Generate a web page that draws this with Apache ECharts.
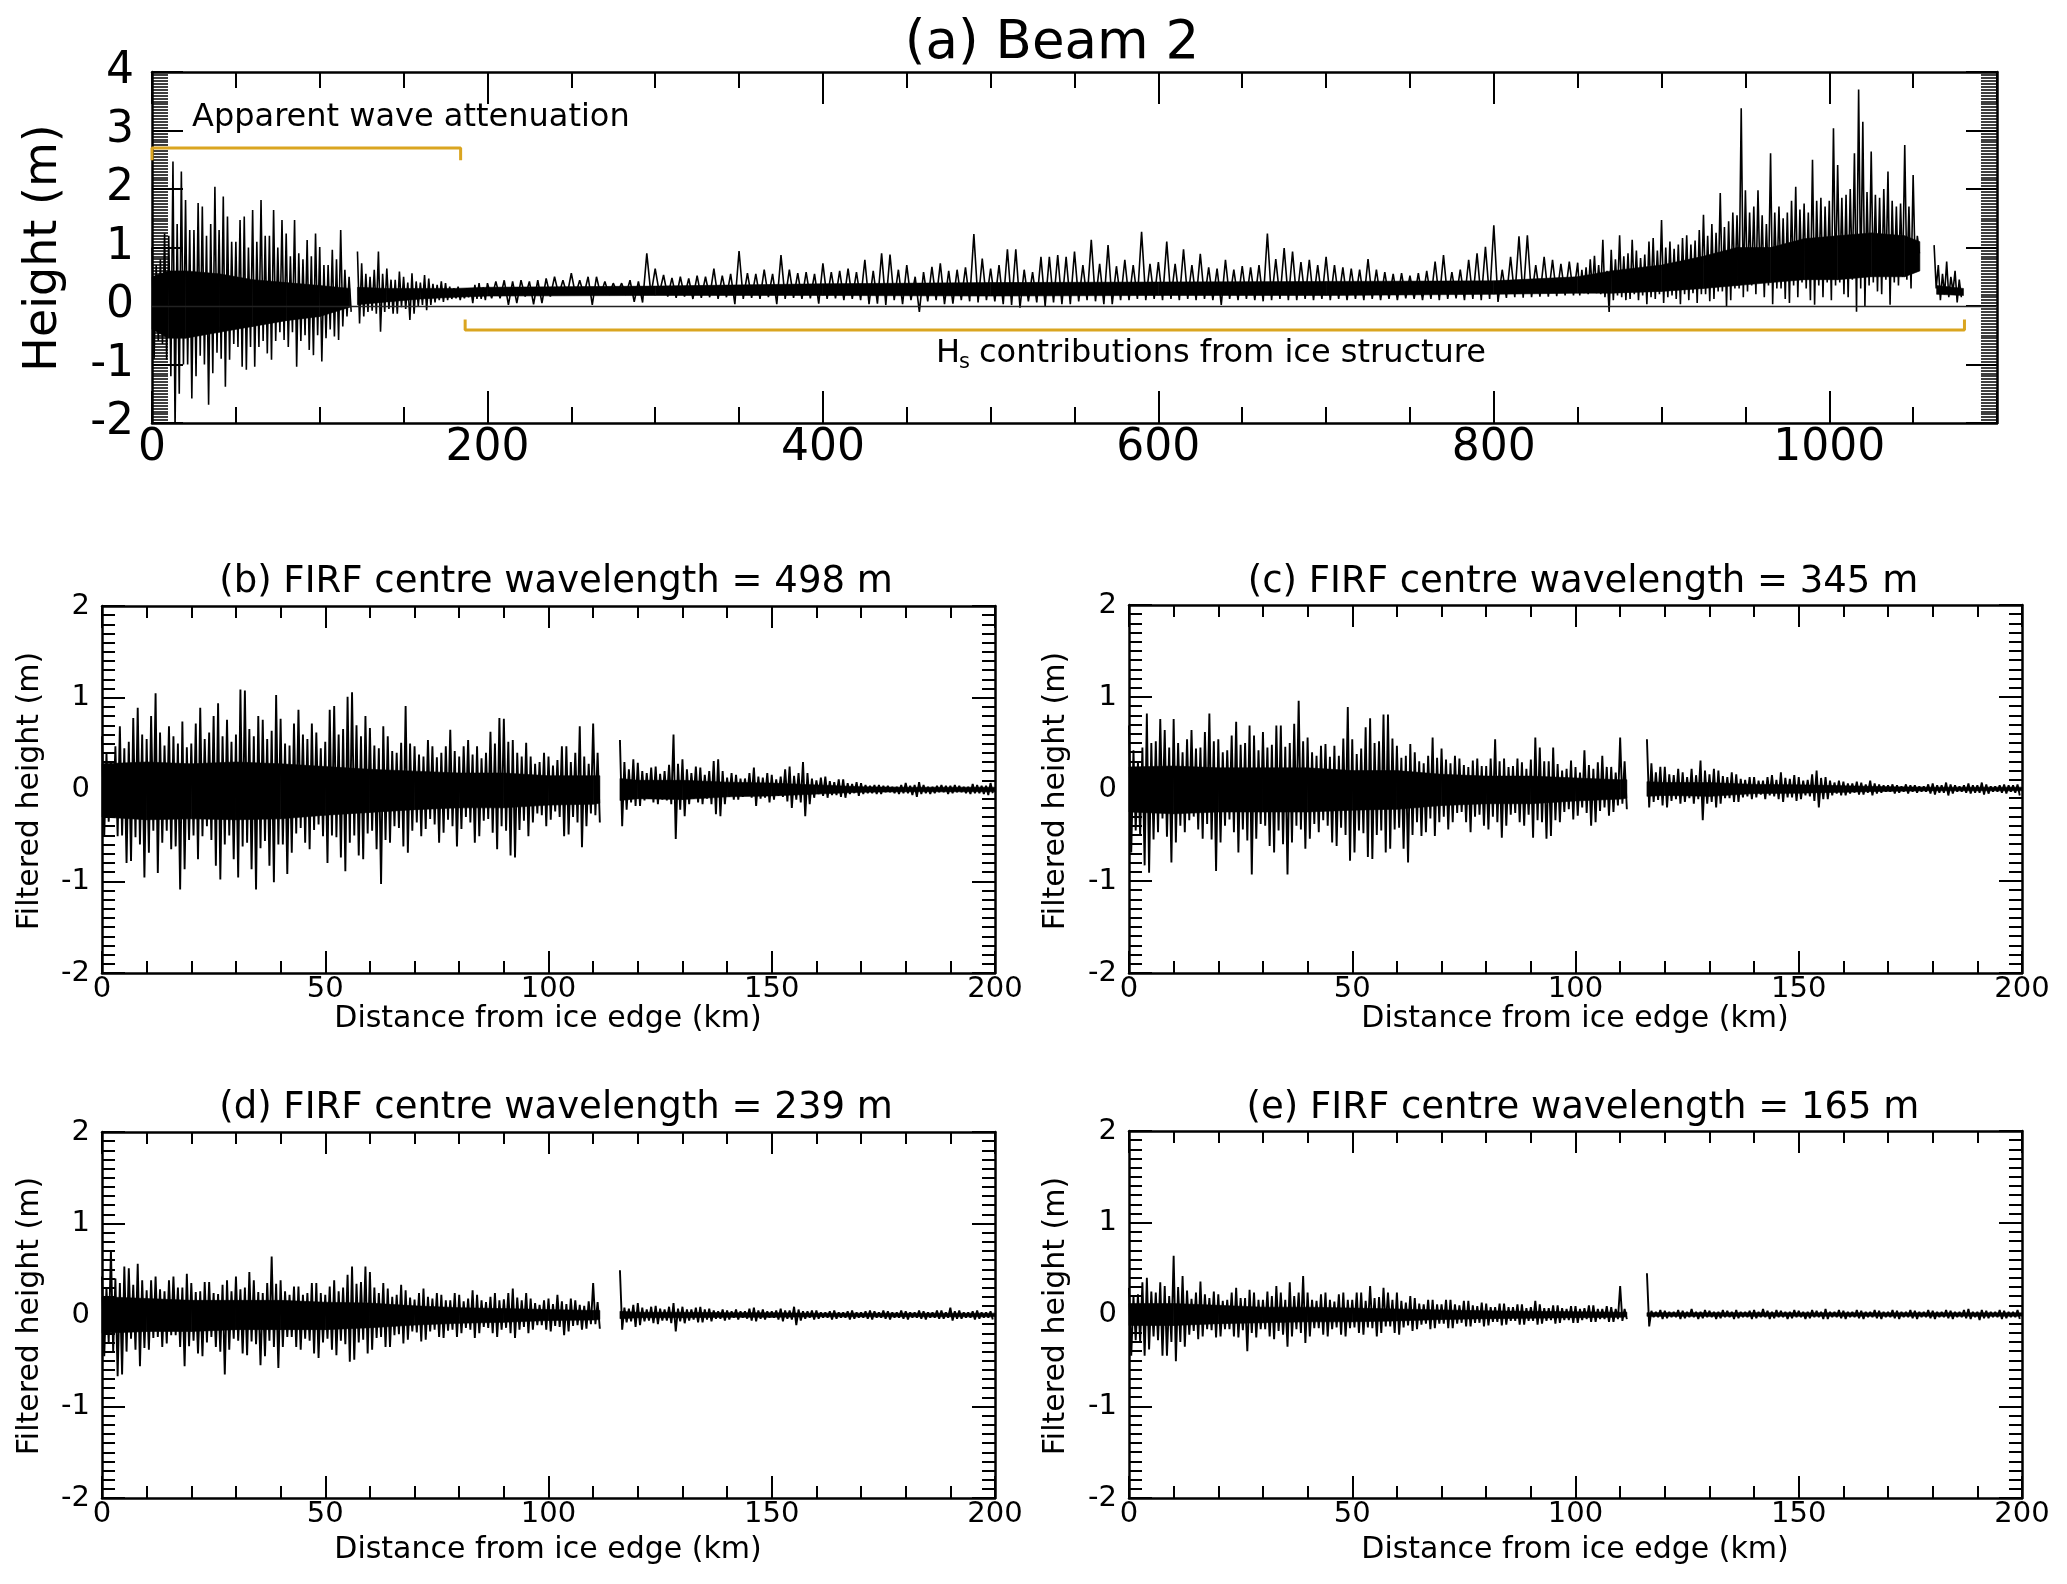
<!DOCTYPE html>
<html><head><meta charset="utf-8">
<script src="https://cdn.jsdelivr.net/npm/echarts@6/dist/echarts.min.js"></script>
<style>html,body{margin:0;padding:0;background:#fff}#c{width:2067px;height:1584px}</style>
</head><body><div id="c"></div>
<script>
// ---------- DATA ----------
// Panel (a), 0-200 km: per 2.5 km bin, max (upper) and min (lower) height (m)
const A_NEAR_STEP = 2.5, A_NEAR_START = 0;
const aNearUpper = [1.00,0.70, 0.80,1.24, 1.20,2.47, 1.40,2.30, 1.81,1.30, 1.30,1.76, 1.70,1.20, 1.40,2.04, 1.30,1.87, 1.53,1.10,
1.10,1.47, 1.53,1.00, 1.64,1.10, 1.81,1.20, 1.20,1.64, 1.00,1.47, 1.24,0.85, 1.47,0.90, 0.80,1.13, 0.85,1.24,
1.01,0.70, 0.70,0.96, 0.80,1.30, 0.62,0.50, null,0.93, 0.73,0.55, 0.50,0.62, 0.93,0.55, 0.64,0.45, 0.45,0.59,
0.50,0.40, 0.56,0.42, 0.40,0.53, 0.47,0.38, 0.36,0.42, 0.39,0.33, 0.30,0.33, 0.27,0.25, 0.30,0.36, 0.39,0.32];
const aNearLower = [-0.90,-0.60, -0.65,-0.92, -1.20,-2.10, -1.50,-1.00, -1.00,-1.58, -1.20,-0.85, -1.00,-1.69, -1.15,-0.80, -0.90,-1.38, -0.92,-0.65,
-0.70,-1.04, -1.09,-0.70, -1.04,-0.70, -0.60,-0.81, -0.92,-0.60, -0.45,-0.58, -0.70,-0.45, -1.04,-0.60, -0.50,-0.75, -0.84,-0.50,
-0.95,-0.55, -0.40,-0.52, -0.58,-0.35, -0.18,-0.10, null,-0.30, -0.18,-0.10, -0.08,-0.13, -0.44,-0.10, -0.05,-0.13, -0.13,-0.02,
-0.05,-0.24, -0.13,0.00, 0.02,-0.07, 0.02,0.06, 0.10,0.07, 0.10,0.12, 0.13,0.10, 0.13,0.15, 0.05,0.12, 0.12,0.10];
// Panel (a), 200-850 km: per 5 km bin
const A_FAR_STEP = 5, A_FAR_START = 200;
const aFarUpper = [0.39,0.42,0.44,0.42,0.44,0.42,0.44,0.47,0.50,0.44, 0.56,0.44,0.50,0.50,0.42,0.39,0.39,0.44,0.42,0.90,
0.64,0.53,0.48,0.50,0.47,0.52,0.50,0.64,0.52,0.55, 0.94,0.56,0.55,0.62,0.55,0.87,0.62,0.56,0.58,0.55,
0.73,0.58,0.60,0.64,0.58,0.79,0.60,0.90,0.88,0.62, 0.70,0.50,0.58,0.67,0.73,0.60,0.62,0.66,1.23,0.81,
0.64,0.70,0.97,0.97,0.62,0.58,0.84,0.84,0.87,0.84, 0.93,0.70,1.13,0.72,1.04,0.68,0.79,0.70,1.27,0.72,
0.75,1.10,0.72,0.97,0.70,0.89,0.66,0.64,0.79,0.62, 0.68,0.66,0.70,1.24,0.80,0.99,0.93,0.75,0.79,0.70,
0.84,0.70,0.66,0.64,0.62,0.80,0.62,0.58,0.55,0.56, 0.52,0.56,0.60,0.76,0.87,0.58,0.62,0.79,0.90,1.01,
1.38,0.62,0.84,1.19,1.21,0.70,0.84,0.79,0.72,0.76];
const aFarLower = [0.13,0.13,0.02,0.05,0.16,0.03,0.05,0.16,0.19,0.19, 0.19,0.19,0.02,0.19,0.19,0.22,0.19,0.07,0.06,0.19,
0.22,0.16,0.14,0.16,0.12,0.14,0.15,0.12,0.15,0.03, 0.12,0.14,0.12,0.15,0.03,0.12,0.14,0.12,0.13,0.04,
0.12,0.13,0.10,0.12,0.10,0.03,0.04,0.02,0.10,0.03, 0.10,-0.10,0.08,0.10,0.03,0.04,0.10,0.08,0.06,0.10,
0.08,0.03,0.02,-0.03,0.08,0.06,0.00,0.06,0.03,0.03, 0.08,0.10,0.08,0.03,0.03,0.10,0.10,0.12,0.10,0.12,
0.10,0.12,0.10,0.12,0.10,0.12,0.10,0.02,0.12,0.10, 0.12,0.10,0.08,0.10,0.12,0.10,0.10,0.12,0.10,0.12,
0.10,0.12,0.10,0.12,0.10,0.12,0.10,0.12,0.10,0.13, 0.12,0.10,0.12,0.10,0.12,0.13,0.10,0.12,0.10,0.12,
0.07,0.14,0.15,0.14,0.15,0.16,0.16,0.17,0.18,0.18];
// Panel (a), 850-1080 km: per 2.5 km bin
const A_END_STEP = 2.5, A_END_START = 850;
const aEndUpper = [0.74,0.62, 0.66,0.80, 0.86,0.70, 1.13,0.60, 0.96,0.80, 1.21,0.85, 0.90,1.13, 0.95,0.82, 0.88,1.10, 1.16,0.95,
1.47,1.00, 1.10,0.98, 1.05,1.16, 1.21,1.05, 1.12,1.30, 1.56,1.20, 1.40,1.25, 1.93,1.35, 1.45,1.60, 1.55,3.38,
1.98,1.60, 1.70,1.98, 1.55,1.40, 2.61,1.60, 1.70,1.50, 1.60,1.80, 2.04,1.65, 1.75,1.60, 2.50,1.80, 1.85,1.70,
1.80,3.04, 2.41,1.85, 1.90,2.00, 2.61,3.70, 3.15,1.95, 2.64,1.90, 1.85,2.00, 2.30,1.80, 1.70,1.75, 2.75,1.70,
2.24,1.20, null,null, null,1.04, 0.70,0.55, 0.76,0.50, 0.60,0.45];
const aEndLower = [0.18,0.22, 0.20,0.25, 0.22,0.20, 0.15,-0.10, 0.10,0.18, 0.15,0.10, 0.12,0.20, 0.10,0.18, 0.03,0.15, 0.12,0.20,
0.05,0.15, 0.18,0.12, 0.03,0.20, 0.10,0.22, 0.05,0.20, 0.20,0.08, 0.12,0.25, 0.25,-0.01, 0.10,0.30, 0.30,0.15,
0.25,0.35, 0.20,0.40, 0.15,0.35, 0.03,0.30, 0.30,0.12, 0.05,0.35, 0.15,0.40, 0.30,0.10, 0.02,0.35, 0.15,0.40,
0.10,0.35, 0.40,0.20, 0.15,0.45, -0.10,0.30, -0.01,0.35, 0.40,0.25, 0.20,0.45, 0.02,0.40, 0.35,0.50, 0.45,0.30,
0.60,0.90, null,null, null,0.30, 0.10,0.20, 0.15,0.25, 0.06,0.15];
// Panel (a): dense core of the signal
const aCoreKm = [0,10,20,40,60,80,100,118,120,122.5,140,160,180,200,300,400,500,600,700,800,850,870,900,925,945,965,985,1005,1025,1045,1054,1058,1064,1080];
const aCoreTop = [0.5,0.6,0.6,0.55,0.45,0.4,0.35,0.3,null,0.32,0.3,0.3,0.3,0.32,0.34,0.38,0.40,0.41,0.42,0.43,0.5,0.6,0.7,0.85,1.0,1.0,1.15,1.2,1.25,1.2,1.1,null,0.35,0.3];
const aCoreBot = [-0.4,-0.55,-0.55,-0.45,-0.35,-0.25,-0.18,-0.02,null,0.02,0.07,0.12,0.15,0.17,0.18,0.18,0.17,0.18,0.18,0.2,0.22,0.22,0.25,0.3,0.35,0.4,0.45,0.45,0.5,0.5,0.6,null,0.2,0.18];
// Annotation brackets (km, m)
const bracket1Km = [0,0,184,184], bracket1M = [2.49,2.70,2.70,2.49];
const bracket2Km = [186.7,186.7,1080.6,1080.6], bracket2M = [-0.23,-0.41,-0.41,-0.23];

// Panels (b)-(e): per 1 km bin max/min of filtered height (m), 0-200 km
const SUB_STEP_KM = 1;
const bUpper = [0.58,0.40, 0.30,0.47, 0.69,0.45, 0.52,0.78, 0.89,0.60, 0.55,0.80, 1.05,0.62, 0.48,0.69, 0.58,0.50, 0.74,0.46,
0.50,0.72, 0.89,0.55, 0.62,0.80, 0.94,0.58, 0.76,0.52, 0.60,1.09, 1.08,0.66, 0.58,0.80, 0.76,0.55, 0.64,1.03,
0.77,0.50, 0.48,0.72, 0.87,0.60, 0.55,0.72, 0.62,0.45, 0.52,0.87, 0.91,0.60, 0.66,1.01, 1.06,0.70, 0.58,0.80,
0.67,0.48, 0.45,0.69, 0.58,0.42, 0.40,0.51, 0.91,0.50, 0.47,0.38, 0.36,0.54, 0.47,0.35, 0.40,0.47, 0.65,0.42,
0.36,0.47, 0.54,0.38, 0.47,0.34, 0.40,0.63, 0.50,0.78, 0.77,0.52, 0.54,0.40, 0.36,0.51, 0.36,0.28, 0.30,0.40,
0.36,0.26, 0.32,0.47, 0.47,0.30, 0.40,0.69, 0.36,0.28, 0.72,0.40,
null,null,null,null,
0.54,0.30, 0.22,0.33, 0.29,0.20, 0.18,0.24, 0.25,0.17, 0.20,0.27, 0.60,0.28, 0.33,0.22, 0.18,0.25, 0.24,0.16,
0.20,0.31, 0.33,0.20, 0.13,0.18, 0.16,0.12, 0.12,0.18, 0.24,0.14, 0.13,0.18, 0.16,0.11, 0.14,0.22, 0.25,0.15,
0.18,0.30, 0.18,0.12, 0.10,0.13, 0.14,0.09, 0.08,0.11, 0.11,0.07, 0.06,0.08, 0.07,0.05, 0.04,0.05, 0.05,0.04,
0.04,0.03, 0.03,0.05, 0.07,0.04, 0.05,0.08, 0.05,0.03, 0.03,0.04, 0.05,0.04, 0.04,0.05, 0.04,0.03, 0.03,0.06,
0.05,0.04, 0.04,0.07];
const bLower = [-0.51,-0.35, -0.30,-0.51, -0.50,-0.80, -0.78,-0.52, -0.60,-0.96, -0.69,-0.45, -0.91,-0.58, -0.45,-0.65, -0.62,-1.09, -0.87,-0.55,
-0.50,-0.76, -0.51,-0.40, -0.55,-0.83, -0.98,-0.60, -0.50,-0.76, -0.96,-0.62, -0.58,-0.87, -1.09,-0.64, -0.56,-0.83, -1.01,-0.60,
-0.60,-0.92, -0.69,-0.48, -0.42,-0.58, -0.65,-0.44, -0.38,-0.51, -0.80,-0.50, -0.52,-0.74, -0.89,-0.58, -0.50,-0.72, -0.76,-0.48,
-0.45,-0.65, -1.03,-0.55, -0.58,-0.40, -0.42,-0.62, -0.69,-0.45, -0.36,-0.51, -0.43,-0.32, -0.38,-0.58, -0.47,-0.33, -0.40,-0.62,
-0.43,-0.30, -0.36,-0.58, -0.51,-0.34, -0.32,-0.47, -0.65,-0.40, -0.45,-0.72, -0.74,-0.44, -0.34,-0.51, -0.36,-0.26, -0.28,-0.40,
-0.33,-0.24, -0.30,-0.51, -0.49,-0.30, -0.36,-0.63, -0.40,-0.26, -0.28,-0.36,
null,null,null,null,
-0.40,-0.22, -0.14,-0.18, -0.18,-0.12, -0.10,-0.14, -0.16,-0.11, -0.12,-0.16, -0.54,-0.22, -0.29,-0.16, -0.10,-0.14, -0.16,-0.10,
-0.16,-0.27, -0.29,-0.16, -0.08,-0.11, -0.11,-0.08, -0.07,-0.09, -0.18,-0.10, -0.09,-0.14, -0.11,-0.07, -0.08,-0.13, -0.20,-0.11,
-0.14,-0.29, -0.16,-0.09, -0.05,-0.07, -0.09,-0.06, -0.06,-0.08, -0.09,-0.05, -0.04,-0.07, -0.05,-0.04, -0.04,-0.05, -0.05,-0.03,
-0.03,-0.04, -0.05,-0.04, -0.04,-0.06, -0.08,-0.05, -0.04,-0.05, -0.04,-0.03, -0.03,-0.05, -0.04,-0.03, -0.03,-0.04, -0.05,-0.04,
-0.04,-0.05, -0.06,-0.04];
const cUpper = [0.69,0.42, 0.30,0.45, 0.82,0.50, 0.52,0.76, 0.64,0.45, 0.76,0.50, 0.40,0.54, 0.64,0.44, 0.45,0.62, 0.82,0.52,
0.54,0.40, 0.42,0.58, 0.73,0.48, 0.50,0.69, 0.58,0.42, 0.62,0.45, 0.48,0.69, 0.69,0.46, 0.50,0.71, 0.96,0.52,
0.56,0.40, 0.36,0.47, 0.49,0.35, 0.47,0.36, 0.55,0.89, 0.54,0.38, 0.44,0.67, 0.77,0.50, 0.52,0.81, 0.81,0.55,
0.47,0.34, 0.36,0.49, 0.40,0.30, 0.28,0.36, 0.56,0.34, 0.44,0.32, 0.28,0.36, 0.33,0.26, 0.24,0.31, 0.33,0.25,
0.25,0.33, 0.54,0.30, 0.33,0.24, 0.25,0.33, 0.29,0.22, 0.32,0.56, 0.45,0.30, 0.30,0.45, 0.27,0.20, 0.22,0.31,
0.24,0.18, 0.42,0.26, 0.22,0.29, 0.36,0.24, 0.24,0.18, 0.56,0.30,
null,null,null,null,
0.54,0.28, 0.18,0.24, 0.24,0.16, 0.15,0.22, 0.18,0.13, 0.22,0.15, 0.31,0.20, 0.16,0.22, 0.20,0.14, 0.13,0.18,
0.16,0.11, 0.10,0.13, 0.13,0.09, 0.09,0.13, 0.15,0.10, 0.18,0.12, 0.11,0.15, 0.13,0.09, 0.10,0.16, 0.20,0.12,
0.13,0.09, 0.07,0.09, 0.08,0.06, 0.06,0.08, 0.07,0.05, 0.09,0.06, 0.05,0.04, 0.04,0.05, 0.04,0.03, 0.05,0.04,
0.04,0.03, 0.03,0.05, 0.06,0.04, 0.04,0.07, 0.05,0.04, 0.03,0.04, 0.06,0.04, 0.04,0.07, 0.05,0.03, 0.03,0.04,
0.05,0.04, 0.04,0.05];
const cLower = [-0.69,-0.45, -0.50,-0.83, -0.91,-0.55, -0.47,-0.32, -0.52,-0.80, -0.58,-0.40, -0.47,-0.34, -0.30,-0.44, -0.54,-0.38, -0.55,-0.89,
-0.58,-0.40, -0.33,-0.47, -0.69,-0.44, -0.56,-0.93, -0.54,-0.38, -0.40,-0.62, -0.69,-0.45, -0.60,-0.93, -0.58,-0.40, -0.44,-0.65,
-0.54,-0.38, -0.47,-0.34, -0.40,-0.58, -0.62,-0.42, -0.50,-0.78, -0.69,-0.45, -0.48,-0.74, -0.76,-0.50, -0.45,-0.69, -0.65,-0.44,
-0.42,-0.65, -0.80,-0.50, -0.36,-0.51, -0.47,-0.32, -0.51,-0.36, -0.30,-0.44, -0.36,-0.26, -0.25,-0.36, -0.47,-0.30, -0.28,-0.40,
-0.44,-0.30, -0.36,-0.53, -0.40,-0.28, -0.26,-0.36, -0.40,-0.28, -0.53,-0.34, -0.36,-0.54, -0.51,-0.34, -0.36,-0.25, -0.22,-0.33,
-0.29,-0.20, -0.26,-0.40, -0.36,-0.24, -0.20,-0.29, -0.25,-0.18, -0.16,-0.22,
null,null,null,null,
-0.20,-0.14, -0.12,-0.18, -0.20,-0.13, -0.11,-0.16, -0.14,-0.10, -0.16,-0.11, -0.34,-0.16, -0.14,-0.20, -0.16,-0.10, -0.10,-0.14,
-0.14,-0.09, -0.08,-0.11, -0.09,-0.06, -0.11,-0.07, -0.08,-0.11, -0.14,-0.09, -0.09,-0.13, -0.11,-0.07, -0.08,-0.13, -0.20,-0.11,
-0.11,-0.07, -0.05,-0.07, -0.07,-0.05, -0.04,-0.06, -0.06,-0.04, -0.07,-0.05, -0.04,-0.03, -0.03,-0.05, -0.04,-0.03, -0.05,-0.03,
-0.04,-0.03, -0.03,-0.05, -0.06,-0.04, -0.04,-0.07, -0.05,-0.03, -0.03,-0.04, -0.05,-0.04, -0.04,-0.06, -0.05,-0.03, -0.03,-0.04,
-0.05,-0.03, -0.04,-0.07];
const dUpper = [0.42,0.30, 0.71,0.40, 0.35,0.53, 0.51,0.33, 0.56,0.38, 0.27,0.38, 0.42,0.28, 0.26,0.38, 0.42,0.30, 0.30,0.45,
0.35,0.25, 0.26,0.36, 0.36,0.24, 0.23,0.33, 0.38,0.26, 0.42,0.28, 0.30,0.47, 0.38,0.25, 0.24,0.35, 0.64,0.34,
0.38,0.26, 0.22,0.31, 0.31,0.22, 0.24,0.35, 0.35,0.24, 0.22,0.31, 0.38,0.26, 0.30,0.44, 0.53,0.34, 0.36,0.53,
0.47,0.30, 0.24,0.35, 0.29,0.20, 0.22,0.33, 0.27,0.19, 0.17,0.24, 0.29,0.20, 0.18,0.24, 0.22,0.16, 0.16,0.24,
0.22,0.15, 0.18,0.27, 0.22,0.16, 0.14,0.20, 0.24,0.16, 0.17,0.24, 0.29,0.19, 0.16,0.24, 0.18,0.13, 0.11,0.16,
0.18,0.12, 0.22,0.15, 0.12,0.18, 0.16,0.11, 0.10,0.15, 0.35,0.14,
null,null,null,null,
0.49,0.08, 0.07,0.11, 0.13,0.08, 0.06,0.09, 0.10,0.07, 0.06,0.09, 0.13,0.07, 0.09,0.06, 0.06,0.08, 0.09,0.06,
0.07,0.05, 0.04,0.06, 0.05,0.04, 0.06,0.04, 0.04,0.07, 0.08,0.05, 0.06,0.04, 0.04,0.05, 0.07,0.05, 0.05,0.09,
0.06,0.04, 0.04,0.05, 0.05,0.03, 0.03,0.04, 0.05,0.03, 0.03,0.04, 0.05,0.03, 0.03,0.04, 0.05,0.04, 0.03,0.05,
0.04,0.03, 0.03,0.05, 0.04,0.03, 0.03,0.05, 0.04,0.03, 0.03,0.05, 0.05,0.03, 0.08,0.04, 0.05,0.03, 0.03,0.04,
0.05,0.03, 0.03,0.04];
const dLower = [-0.45,-0.30, -0.40,-0.67, -0.65,-0.40, -0.26,-0.38, -0.56,-0.36, -0.38,-0.25, -0.24,-0.35, -0.31,-0.22, -0.22,-0.35, -0.56,-0.34,
-0.28,-0.42, -0.45,-0.30, -0.24,-0.35, -0.40,-0.65, -0.38,-0.26, -0.28,-0.42, -0.44,-0.29, -0.32,-0.55, -0.45,-0.28, -0.35,-0.58,
-0.35,-0.24, -0.24,-0.35, -0.38,-0.26, -0.28,-0.42, -0.47,-0.30, -0.26,-0.38, -0.44,-0.28, -0.32,-0.51, -0.49,-0.30, -0.27,-0.42,
-0.38,-0.25, -0.24,-0.35, -0.35,-0.22, -0.21,-0.31, -0.27,-0.18, -0.19,-0.29, -0.27,-0.18, -0.16,-0.24, -0.25,-0.17, -0.16,-0.24,
-0.20,-0.14, -0.16,-0.25, -0.20,-0.13, -0.14,-0.20, -0.24,-0.16, -0.14,-0.20, -0.25,-0.16, -0.13,-0.20, -0.16,-0.11, -0.11,-0.16,
-0.18,-0.12, -0.13,-0.22, -0.18,-0.12, -0.11,-0.16, -0.15,-0.10, -0.10,-0.15,
null,null,null,null,
-0.16,-0.08, -0.07,-0.13, -0.11,-0.07, -0.06,-0.09, -0.10,-0.06, -0.06,-0.09, -0.18,-0.07, -0.09,-0.06, -0.05,-0.08, -0.08,-0.05,
-0.07,-0.04, -0.04,-0.06, -0.05,-0.03, -0.05,-0.03, -0.04,-0.06, -0.07,-0.04, -0.05,-0.03, -0.03,-0.05, -0.07,-0.04, -0.05,-0.11,
-0.06,-0.04, -0.03,-0.05, -0.04,-0.03, -0.03,-0.05, -0.04,-0.03, -0.03,-0.05, -0.04,-0.03, -0.03,-0.04, -0.05,-0.03, -0.03,-0.04,
-0.05,-0.03, -0.03,-0.04, -0.05,-0.03, -0.03,-0.04, -0.05,-0.03, -0.03,-0.04, -0.04,-0.03, -0.06,-0.04, -0.04,-0.03, -0.03,-0.05,
-0.04,-0.03, -0.03,-0.05];
const eUpper = [0.29,0.20, 0.22,0.35, 0.40,0.25, 0.24,0.35, 0.31,0.20, 0.64,0.30, 0.42,0.26, 0.17,0.24, 0.36,0.22, 0.18,0.25,
0.22,0.15, 0.16,0.24, 0.29,0.18, 0.18,0.27, 0.24,0.16, 0.16,0.25, 0.20,0.31, 0.24,0.16, 0.35,0.20, 0.24,0.42,
0.24,0.16, 0.15,0.22, 0.24,0.16, 0.14,0.22, 0.24,0.16, 0.16,0.24, 0.24,0.15, 0.31,0.18, 0.19,0.29, 0.24,0.16,
0.24,0.15, 0.13,0.20, 0.18,0.12, 0.11,0.16, 0.16,0.11, 0.11,0.16, 0.16,0.11, 0.10,0.15, 0.15,0.10, 0.09,0.13,
0.12,0.08, 0.08,0.12, 0.12,0.08, 0.08,0.11, 0.11,0.07, 0.08,0.15, 0.11,0.07, 0.07,0.10, 0.10,0.07, 0.06,0.09,
0.09,0.06, 0.07,0.10, 0.10,0.06, 0.06,0.09, 0.08,0.06, 0.31,0.06,
null,null,null,null,
0.45,0.04, 0.03,0.05, 0.04,0.03, 0.03,0.05, 0.04,0.03, 0.06,0.03, 0.03,0.05, 0.04,0.03, 0.03,0.05, 0.04,0.03,
0.05,0.03, 0.03,0.04, 0.05,0.03, 0.06,0.04, 0.03,0.05, 0.04,0.03, 0.03,0.05, 0.04,0.03, 0.03,0.05, 0.04,0.03,
0.06,0.03, 0.03,0.05, 0.04,0.03, 0.03,0.05, 0.04,0.03, 0.03,0.05, 0.04,0.03, 0.03,0.05, 0.04,0.03, 0.03,0.05,
0.04,0.03, 0.03,0.05, 0.04,0.03, 0.03,0.05, 0.04,0.03, 0.03,0.05, 0.06,0.03, 0.03,0.05, 0.04,0.03, 0.03,0.05,
0.04,0.03, 0.03,0.05];
const eLower = [-0.45,-0.28, -0.30,-0.45, -0.38,-0.24, -0.28,-0.45, -0.45,-0.30, -0.51,-0.30, -0.35,-0.22, -0.18,-0.27, -0.24,-0.16, -0.17,-0.25,
-0.24,-0.16, -0.16,-0.24, -0.25,-0.17, -0.40,-0.20, -0.25,-0.16, -0.16,-0.24, -0.27,-0.18, -0.22,-0.35, -0.24,-0.16, -0.20,-0.31,
-0.24,-0.15, -0.15,-0.22, -0.24,-0.16, -0.14,-0.22, -0.24,-0.15, -0.14,-0.20, -0.22,-0.14, -0.15,-0.24, -0.20,-0.13, -0.13,-0.20,
-0.22,-0.14, -0.12,-0.18, -0.16,-0.11, -0.10,-0.16, -0.15,-0.10, -0.10,-0.15, -0.15,-0.10, -0.09,-0.13, -0.13,-0.09, -0.09,-0.13,
-0.12,-0.08, -0.08,-0.12, -0.11,-0.07, -0.07,-0.11, -0.11,-0.07, -0.07,-0.11, -0.10,-0.07, -0.06,-0.10, -0.09,-0.06, -0.06,-0.09,
-0.09,-0.06, -0.05,-0.08, -0.08,-0.05, -0.05,-0.08, -0.08,-0.05, -0.07,-0.05,
null,null,null,null,
-0.13,-0.03, -0.03,-0.05, -0.04,-0.03, -0.03,-0.05, -0.04,-0.03, -0.03,-0.05, -0.04,-0.03, -0.03,-0.05, -0.04,-0.03, -0.03,-0.05,
-0.04,-0.03, -0.03,-0.05, -0.04,-0.03, -0.03,-0.05, -0.04,-0.03, -0.03,-0.05, -0.04,-0.03, -0.03,-0.05, -0.04,-0.03, -0.03,-0.05,
-0.05,-0.03, -0.03,-0.04, -0.05,-0.03, -0.03,-0.04, -0.05,-0.03, -0.03,-0.04, -0.05,-0.03, -0.03,-0.04, -0.05,-0.03, -0.03,-0.04,
-0.05,-0.03, -0.03,-0.04, -0.05,-0.03, -0.03,-0.04, -0.05,-0.03, -0.03,-0.04, -0.05,-0.03, -0.06,-0.04, -0.04,-0.03, -0.03,-0.05,
-0.04,-0.03, -0.03,-0.05];
// Dense core for panels (b)-(e)
const subCoreKm = [0,10,20,30,40,50,60,70,80,90,100,110,111.5,113.5,116,120,130,140,150,160,170,180,190,200];
const bCoreTop = [0.28,0.30,0.28,0.30,0.28,0.25,0.22,0.20,0.18,0.18,0.15,0.15,0.15,null,0.12,0.10,0.10,0.08,0.07,0.05,0.03,0.025,0.025,0.025];
const bCoreBot = [-0.30,-0.33,-0.32,-0.33,-0.32,-0.28,-0.25,-0.22,-0.20,-0.20,-0.17,-0.16,-0.15,null,-0.12,-0.10,-0.11,-0.08,-0.07,-0.05,-0.03,-0.025,-0.025,-0.025];
const cCoreTop = [0.24,0.25,0.23,0.23,0.23,0.20,0.20,0.16,0.14,0.14,0.12,0.10,0.10,null,0.08,0.07,0.07,0.05,0.045,0.035,0.025,0.02,0.02,0.02];
const cCoreBot = [-0.25,-0.27,-0.25,-0.25,-0.25,-0.23,-0.22,-0.18,-0.16,-0.16,-0.13,-0.11,-0.10,null,-0.08,-0.07,-0.08,-0.05,-0.045,-0.035,-0.025,-0.02,-0.02,-0.02];
const dCoreTop = [0.20,0.18,0.16,0.16,0.16,0.14,0.13,0.10,0.08,0.07,0.06,0.05,0.05,null,0.04,0.03,0.03,0.025,0.025,0.02,0.02,0.02,0.02,0.02];
const dCoreBot = [-0.20,-0.18,-0.18,-0.16,-0.16,-0.16,-0.14,-0.11,-0.09,-0.08,-0.06,-0.055,-0.05,null,-0.04,-0.03,-0.03,-0.025,-0.025,-0.02,-0.02,-0.02,-0.02,-0.02];
const eCoreTop = [0.12,0.12,0.10,0.08,0.08,0.07,0.06,0.05,0.04,0.035,0.03,0.025,0.025,null,0.02,0.02,0.02,0.02,0.018,0.018,0.018,0.018,0.018,0.018];
const eCoreBot = [-0.12,-0.12,-0.10,-0.09,-0.08,-0.08,-0.07,-0.055,-0.045,-0.04,-0.035,-0.03,-0.025,null,-0.02,-0.02,-0.02,-0.02,-0.018,-0.018,-0.018,-0.018,-0.018,-0.018];

// Text
const titleA = '(a) Beam 2';
const subTitles = ['(b) FIRF centre wavelength = 498 m','(c) FIRF centre wavelength = 345 m','(d) FIRF centre wavelength = 239 m','(e) FIRF centre wavelength = 165 m'];
const xNameSub = 'Distance from ice edge (km)';
const yNameSub = 'Filtered height (m)';
const yNameA = 'Height (m)';
const noteTop = 'Apparent wave attenuation';
const noteBottom = 'contributions from ice structure';

// ---------- BUILD ----------
const FONT = 'DejaVu Sans';
const GOLD = '#DAA520';
const nz = v => (v == null ? '-' : v);
function zigzag(up, lo, step, start) {
  const out = [];
  for (let i = 0; i < up.length; i++) {
    out.push([start + i * step, nz(up[i])]);
    out.push([start + i * step + step / 2, nz(lo[i])]);
  }
  return out;
}
function coreSeries(km, top, bot, xi, yi) {
  const segs = [];
  for (let i = 0; i + 1 < km.length; i++) {
    if (top[i] == null || top[i + 1] == null || bot[i] == null || bot[i + 1] == null) continue;
    segs.push([km[i], top[i], bot[i], km[i + 1], top[i + 1], bot[i + 1]]);
  }
  return {
    type: 'custom', xAxisIndex: xi, yAxisIndex: yi, data: segs, silent: true, z: 2,
    encode: {x: [0, 3], y: [1, 2, 4, 5]},
    renderItem: function (params, api) {
      const p1 = api.coord([api.value(0), api.value(1)]);
      const p2 = api.coord([api.value(3), api.value(4)]);
      const p3 = api.coord([api.value(3), api.value(5)]);
      const p4 = api.coord([api.value(0), api.value(2)]);
      return {type: 'polygon', shape: {points: [p1, p2, p3, p4]}, style: {fill: '#000', stroke: '#000', lineWidth: 0.6}};
    }
  };
}

const grids = [
  {left: 152, top: 72, width: 1845, height: 351},
  {left: 102, top: 606, width: 893, height: 367},
  {left: 1129, top: 605, width: 893, height: 368},
  {left: 102, top: 1132, width: 893, height: 366},
  {left: 1129, top: 1131, width: 893, height: 367}
].map(g => Object.assign({outerBoundsMode: 'none', containLabel: false, show: false}, g));

const xAxes = [], yAxes = [];
function mkAxis(gi, pos, o) {
  return {
    type: 'value', gridIndex: gi, position: pos, min: o.min, max: o.max, interval: o.interval,
    axisLine: {show: o.line !== false, onZero: false, lineStyle: {color: '#000', width: 2.5}},
    axisTick: {show: true, inside: true, length: o.tickLen, lineStyle: {color: '#000', width: o.tickW || 2}},
    minorTick: {show: !!o.minor, splitNumber: o.minor || 5, length: o.minorLen || 0, lineStyle: {color: '#000', width: o.minorW || 2}},
    axisLabel: {show: !!o.label, fontSize: o.fs || 12, color: '#000', fontFamily: FONT, margin: o.margin || 0, formatter: o.fmt},
    splitLine: {show: false}, minorSplitLine: {show: false}, axisPointer: {show: false}, silent: true
  };
}
function addX(gi, pos, o) { xAxes.push(mkAxis(gi, pos, o)); return xAxes.length - 1; }
function addY(gi, pos, o) { yAxes.push(mkAxis(gi, pos, o)); return yAxes.length - 1; }

const series = [];
// Panel (a)
const axA = addX(0, 'bottom', {min: 0, max: 1100, interval: 200, tickLen: 32, label: true, fs: 44, margin: 4,
  fmt: v => (v % 200 === 0 ? String(v) : '')});
addX(0, 'bottom', {min: 0, max: 1100, interval: 50, tickLen: 16, line: false});
addX(0, 'top', {min: 0, max: 1100, interval: 200, tickLen: 32});
addX(0, 'top', {min: 0, max: 1100, interval: 50, tickLen: 16, line: false});
const ayA = addY(0, 'left', {min: -2, max: 4, interval: 1, tickLen: 31, minor: 20, minorLen: 16, minorW: 1.5, label: true, fs: 44, margin: 18});
addY(0, 'right', {min: -2, max: 4, interval: 1, tickLen: 31, minor: 20, minorLen: 16, minorW: 1.5});
series.push(coreSeries(aCoreKm, aCoreTop, aCoreBot, axA, ayA));
const aLine = zigzag(aNearUpper, aNearLower, A_NEAR_STEP, A_NEAR_START)
  .concat(zigzag(aFarUpper, aFarLower, A_FAR_STEP, A_FAR_START))
  .concat(zigzag(aEndUpper, aEndLower, A_END_STEP, A_END_START));
series.push({type: 'line', xAxisIndex: axA, yAxisIndex: ayA, data: aLine, symbol: 'none', showSymbol: false,
  lineStyle: {color: '#000', width: 1.6}, silent: true, z: 3,
  markLine: {silent: true, symbol: 'none', label: {show: false}, lineStyle: {color: '#222', width: 1.3, type: 'solid'}, data: [{yAxis: 0}], animation: false}});
series.push({type: 'line', xAxisIndex: axA, yAxisIndex: ayA, data: bracket1Km.map((k, i) => [k, bracket1M[i]]), symbol: 'none', showSymbol: false,
  lineStyle: {color: GOLD, width: 3}, clip: false, silent: true, z: 4});
series.push({type: 'line', xAxisIndex: axA, yAxisIndex: ayA, data: bracket2Km.map((k, i) => [k, bracket2M[i]]), symbol: 'none', showSymbol: false,
  lineStyle: {color: GOLD, width: 3}, clip: false, silent: true, z: 4});

// Panels (b)-(e)
const subData = [
  [bUpper, bLower, bCoreTop, bCoreBot],
  [cUpper, cLower, cCoreTop, cCoreBot],
  [dUpper, dLower, dCoreTop, dCoreBot],
  [eUpper, eLower, eCoreTop, eCoreBot]
];
subData.forEach((d, k) => {
  const gi = k + 1;
  const xi = addX(gi, 'bottom', {min: 0, max: 200, interval: 50, tickLen: 22, minor: 5, minorLen: 12, label: true, fs: 29, margin: 2});
  addX(gi, 'top', {min: 0, max: 200, interval: 50, tickLen: 22, minor: 5, minorLen: 12});
  const yi = addY(gi, 'left', {min: -2, max: 2, interval: 1, tickLen: 23, minor: 10, minorLen: 13, label: true, fs: 29, margin: 12});
  addY(gi, 'right', {min: -2, max: 2, interval: 1, tickLen: 23, minor: 10, minorLen: 13});
  series.push(coreSeries(subCoreKm, d[2], d[3], xi, yi));
  series.push({type: 'line', xAxisIndex: xi, yAxisIndex: yi, data: zigzag(d[0], d[1], SUB_STEP_KM, 0), symbol: 'none', showSymbol: false,
    lineStyle: {color: '#000', width: 1.9}, silent: true, z: 3});
});

// Text elements
function txt(x, y, s, size, opt) {
  return Object.assign({type: 'text', x: x, y: y, silent: true, z: 10,
    style: Object.assign({text: s, fontSize: size, fontFamily: FONT, fill: '#000',
      textAlign: 'center', textVerticalAlign: 'middle', align: 'center', verticalAlign: 'middle'}, (opt && opt.style) || {})},
    opt && opt.rotation ? {rotation: opt.rotation} : {});
}
const L = {style: {textAlign: 'left', align: 'left'}};
const R90 = {rotation: Math.PI / 2};
const gfx = [
  txt(1052, 44, titleA, 53),
  txt(44, 248, yNameA, 46, R90),
  txt(192, 118, noteTop, 32, L),
  txt(936, 354, 'H', 32, L),
  txt(959, 363, 's', 21, L),
  txt(979, 354, noteBottom, 32, L)
];
const subCenters = [[556, 582, 548, 1019, 30, 791], [1583, 582, 1575, 1019, 1056, 791], [556, 1108, 548, 1550, 30, 1316], [1583, 1108, 1575, 1550, 1056, 1316]];
subCenters.forEach((c, k) => {
  gfx.push(txt(c[0], c[1], subTitles[k], 37));
  gfx.push(txt(c[2], c[3], xNameSub, 30));
  gfx.push(txt(c[4], c[5], yNameSub, 30, R90));
});

const chart = echarts.init(document.getElementById('c'), null, {renderer: 'canvas'});
chart.setOption({
  animation: false,
  backgroundColor: '#fff',
  grid: grids,
  xAxis: xAxes,
  yAxis: yAxes,
  series: series,
  graphic: gfx
});
</script>
</body></html>
